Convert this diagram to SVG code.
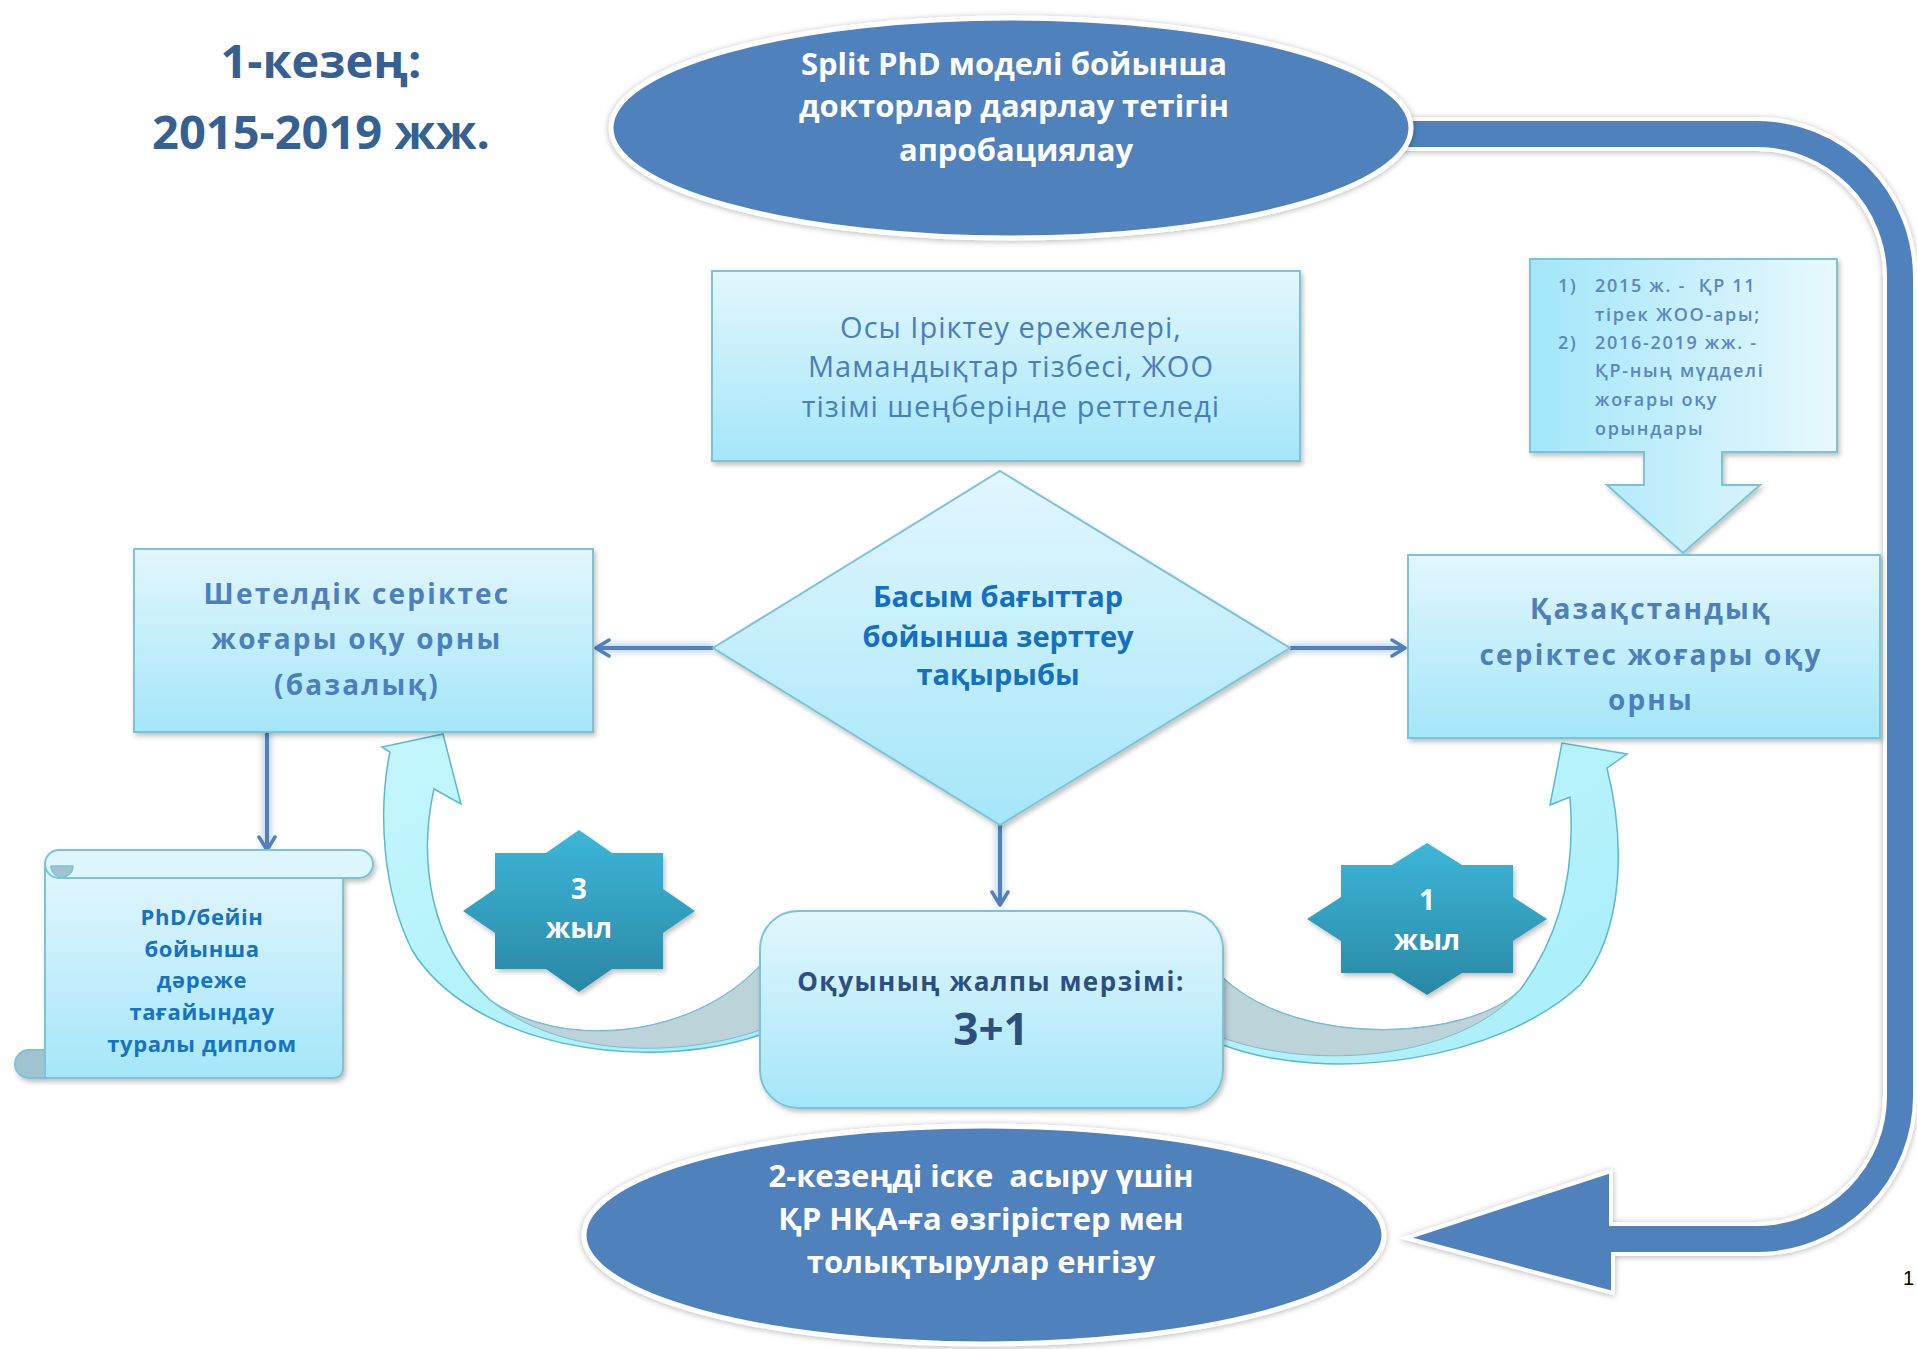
<svg xmlns="http://www.w3.org/2000/svg" width="1917" height="1349" viewBox="0 0 1917 1349">
<defs>
<style>
.t{font-family:"Open Sans","Noto Sans","DejaVu Sans",sans-serif;text-anchor:middle}
.title{font-size:47px;font-weight:700;fill:#366092}
.ell{font-size:31px;font-weight:700;fill:#ffffff}
.osy{font-size:29px;fill:#4A7EBB;letter-spacing:1px;font-weight:500}
.box{font-size:28px;font-weight:700;fill:#4E7FBC;letter-spacing:2.2px}
.dia{font-size:29px;font-weight:700;fill:#1370C2}
.scr{font-size:22px;font-weight:700;fill:#1672C4;letter-spacing:0.6px}
.rnd{font-size:26px;font-weight:700;fill:#2D4F80;letter-spacing:1.5px}
.big{font-size:44px;font-weight:700;fill:#2D4F80}
.star{font-size:28px;font-weight:700;fill:#ffffff}
.sm{font-family:"Open Sans","Noto Sans",sans-serif;font-size:18px;font-weight:600;fill:#5A86C1;letter-spacing:1.7px}
.shape{stroke:#7CC3D6;stroke-width:2;filter:url(#sh)}
.conn{fill:none;stroke:#4F81BD;stroke-width:4}
.halo{fill:none;stroke:#4F81BD;stroke-width:9;stroke-opacity:0.35;filter:url(#blur)}
</style>
<linearGradient id="gv" x1="0" y1="0" x2="0" y2="1">
<stop offset="0" stop-color="#E2F6FD"/><stop offset="1" stop-color="#A4E6F9"/>
</linearGradient>
<linearGradient id="gh" x1="0" y1="0" x2="1" y2="0">
<stop offset="0" stop-color="#A2E6FA"/><stop offset="1" stop-color="#E8F8FD"/>
</linearGradient>
<linearGradient id="gstar" x1="0" y1="0" x2="0" y2="1">
<stop offset="0" stop-color="#3CB6D9"/><stop offset="1" stop-color="#2A88A4"/>
</linearGradient>
<linearGradient id="gcurve" x1="0" y1="0" x2="1" y2="1">
<stop offset="0" stop-color="#C4F6FD"/><stop offset="1" stop-color="#A6EEF9"/>
</linearGradient>
<filter id="sh" x="-10%" y="-10%" width="120%" height="130%">
<feDropShadow dx="2" dy="3" stdDeviation="2.5" flood-color="#000" flood-opacity="0.25"/>
</filter>
<filter id="esh" x="-10%" y="-20%" width="120%" height="140%">
<feDropShadow dx="0" dy="1" stdDeviation="3" flood-color="#000" flood-opacity="0.3"/>
</filter>
<filter id="blur" filterUnits="userSpaceOnUse" x="0" y="0" width="1917" height="1349">
<feGaussianBlur stdDeviation="3"/>
</filter>
<marker id="arr" viewBox="0 0 20 20" refX="17" refY="10" markerWidth="20" markerHeight="20" markerUnits="userSpaceOnUse" orient="auto">
<path d="M4,2 L17,10 L4,18" fill="none" stroke="#4F81BD" stroke-width="3.5" stroke-linecap="round" stroke-linejoin="round"/>
</marker>
</defs>
<rect width="1917" height="1349" fill="#ffffff"/>

<!-- big return arrow -->
<g id="return-arrow">
<path d="M1380,119 L1757,119 A158,158 0 0 1 1915,277 L1915,1096 A158,158 0 0 1 1757,1254 L1613,1254 L1613,1293 L1406,1238 L1611,1171 L1611,1224 L1757,1224 A128,128 0 0 0 1885,1096 L1885,277 A128,128 0 0 0 1757,149 L1380,149 Z" fill="#4F81BD" stroke="#ffffff" stroke-width="4" filter="url(#esh)"/>
</g>

<!-- title -->
<g id="title">
<text class="t title" x="321" y="78">1-кезең:</text>
<text class="t title" x="321" y="149">2015-2019 жж.</text>
</g>

<!-- top ellipse -->
<g id="node-top">
<ellipse cx="1011" cy="128" rx="400" ry="110" fill="#4F81BD" stroke="#ffffff" stroke-width="5" filter="url(#esh)"/>
<text class="t ell" x="1014" y="75">Split PhD моделі бойынша</text>
<text class="t ell" x="1014" y="117">докторлар даярлау тетігін</text>
<text class="t ell" x="1016" y="161">апробациялау</text>
</g>

<!-- curved arrows -->
<g id="curve-left">
<path d="M443,734 L461,804 L434,789 C418,860 430,945 490,1000 C560,1050 690,1040 760,966 L760,1035 C640,1075 470,1045 412,950 C382,890 378,810 390,752 L382,747 Z" fill="url(#gcurve)" stroke="#5AB8CF" stroke-width="1.5"/>
<path d="M490,1000 C560,1050 690,1040 760,966 L760,1030 C680,1058 560,1058 490,1000 Z" fill="#BCD3DA" stroke="#7DBCCB" stroke-width="1"/>
</g>
<g id="curve-right">
<path d="M1562,743 L1550,805 L1570,797 C1575,860 1565,930 1520,990 C1470,1040 1300,1050 1223,978 L1223,1045 C1330,1085 1500,1060 1580,985 C1625,930 1625,840 1607,768 L1627,754 Z" fill="url(#gcurve)" stroke="#5AB8CF" stroke-width="1.5"/>
<path d="M1520,990 C1470,1040 1300,1050 1223,978 L1223,1038 C1320,1072 1460,1058 1520,990 Z" fill="#BCD3DA" stroke="#7DBCCB" stroke-width="1"/>
</g>

<!-- connectors -->
<g id="connectors">
<line class="halo" x1="713" y1="648" x2="596" y2="648"/>
<line class="halo" x1="1290" y1="648" x2="1405" y2="648"/>
<line class="halo" x1="1000" y1="825" x2="1000" y2="905"/>
<line class="halo" x1="267" y1="732" x2="267" y2="850"/>
<line class="conn" x1="713" y1="648" x2="596" y2="648" marker-end="url(#arr)"/>
<line class="conn" x1="1290" y1="648" x2="1405" y2="648" marker-end="url(#arr)"/>
<line class="conn" x1="1000" y1="825" x2="1000" y2="905" marker-end="url(#arr)"/>
<line class="conn" x1="267" y1="732" x2="267" y2="850" marker-end="url(#arr)"/>
</g>

<!-- Осы box -->
<g id="node-rules">
<rect class="shape" x="712" y="271" width="588" height="190" fill="url(#gv)"/>
<text class="t osy" x="1011" y="338">Осы Іріктеу ережелері,</text>
<text class="t osy" x="1011" y="377">Мамандықтар тізбесі, ЖОО</text>
<text class="t osy" x="1011" y="417">тізімі шеңберінде реттеледі</text>
</g>

<!-- callout top right -->
<g id="node-universities">
<path class="shape" d="M1530,259 L1837,259 L1837,452 L1722,452 L1722,485 L1760,485 L1683,553 L1607,485 L1644,485 L1644,452 L1530,452 Z" fill="url(#gh)"/>
<text class="sm" x="1558" y="292">1)</text>
<text class="sm" x="1595" y="292" xml:space="preserve">2015 ж. -  ҚР 11</text>
<text class="sm" x="1595" y="321">тірек ЖОО-ары;</text>
<text class="sm" x="1558" y="349">2)</text>
<text class="sm" x="1595" y="349">2016-2019 жж. -</text>
<text class="sm" x="1595" y="377">ҚР-ның мүдделі</text>
<text class="sm" x="1595" y="406">жоғары оқу</text>
<text class="sm" x="1595" y="435">орындары</text>
</g>

<!-- diamond -->
<g id="node-topic">
<polygon class="shape" points="1000,471 1290,648 1000,825 713,648" fill="url(#gv)"/>
<text class="t dia" x="998" y="607">Басым бағыттар</text>
<text class="t dia" x="998" y="647">бойынша зерттеу</text>
<text class="t dia" x="998" y="685">тақырыбы</text>
</g>

<!-- left box -->
<g id="node-foreign">
<rect class="shape" x="134" y="549" width="459" height="183" fill="url(#gv)"/>
<text class="t box" x="357" y="604">Шетелдік серіктес</text>
<text class="t box" x="357" y="649">жоғары оқу орны</text>
<text class="t box" x="357" y="695">(базалық)</text>
</g>

<!-- right box -->
<g id="node-kz">
<rect class="shape" x="1408" y="555" width="472" height="183" fill="url(#gv)"/>
<text class="t box" x="1651" y="619">Қазақстандық</text>
<text class="t box" x="1651" y="665">серіктес жоғары оқу</text>
<text class="t box" x="1651" y="710">орны</text>
</g>

<!-- scroll -->
<g id="node-diploma">
<g filter="url(#sh)">
<path d="M45,864 L343,864 L343,1068 Q343,1078 333,1078 L45,1078 Z" fill="url(#gv)" stroke="#7CC3D6" stroke-width="2"/>
<path d="M45,1050 L29,1050 A14,14 0 0 0 29,1078 L45,1078 Z" fill="#9FC4CF" stroke="#7CC3D6" stroke-width="2"/>
<rect x="45" y="850" width="328" height="28" rx="14" fill="#DDF5FC" stroke="#7CC3D6" stroke-width="2"/>
<path d="M51,866 A11,11 0 0 0 73,866 Z" fill="#9FC4CF" stroke="#7CC3D6" stroke-width="1.5"/>
</g>
<text class="t scr" x="202" y="925">PhD/бейін</text>
<text class="t scr" x="202" y="957">бойынша</text>
<text class="t scr" x="202" y="988">дәреже</text>
<text class="t scr" x="202" y="1020">тағайындау</text>
<text class="t scr" x="202" y="1052">туралы диплом</text>
</g>

<!-- stars -->
<g id="node-star-3">
<polygon points="579,830 612,853 663,853 663,889 695,911 663,933 663,969 612,969 579,992 546,969 495,969 495,933 463,911 495,889 495,853 546,853" fill="url(#gstar)" filter="url(#sh)"/>
<text class="t star" x="579" y="899">3</text>
<text class="t star" x="579" y="938">жыл</text>
</g>
<g id="node-star-1">
<polygon points="1427,843 1462,865 1513,865 1513,897 1547,919 1513,941 1513,973 1462,973 1427,995 1392,973 1341,973 1341,941 1307,919 1341,897 1341,865 1392,865" fill="url(#gstar)" filter="url(#sh)"/>
<text class="t star" x="1427" y="910">1</text>
<text class="t star" x="1427" y="950">жыл</text>
</g>

<!-- rounded box -->
<g id="node-duration">
<rect class="shape" x="760" y="911" width="463" height="197" rx="38" fill="url(#gv)"/>
<text class="t rnd" x="991" y="991">Оқуының жалпы мерзімі:</text>
<text class="t big" x="991" y="1045">3+1</text>
</g>

<!-- bottom ellipse -->
<g id="node-bottom">
<ellipse cx="984" cy="1235" rx="400" ry="109" fill="#4F81BD" stroke="#ffffff" stroke-width="5" filter="url(#esh)"/>
<text class="t ell" x="981" y="1187" xml:space="preserve">2-кезеңді іске  асыру үшін</text>
<text class="t ell" x="981" y="1230">ҚР НҚА-ға өзгірістер мен</text>
<text class="t ell" x="981" y="1273">толықтырулар енгізу</text>
</g>

<text x="1903" y="1285" font-family="Liberation Sans, Arial, sans-serif" font-size="20" fill="#000">1</text>
</svg>
